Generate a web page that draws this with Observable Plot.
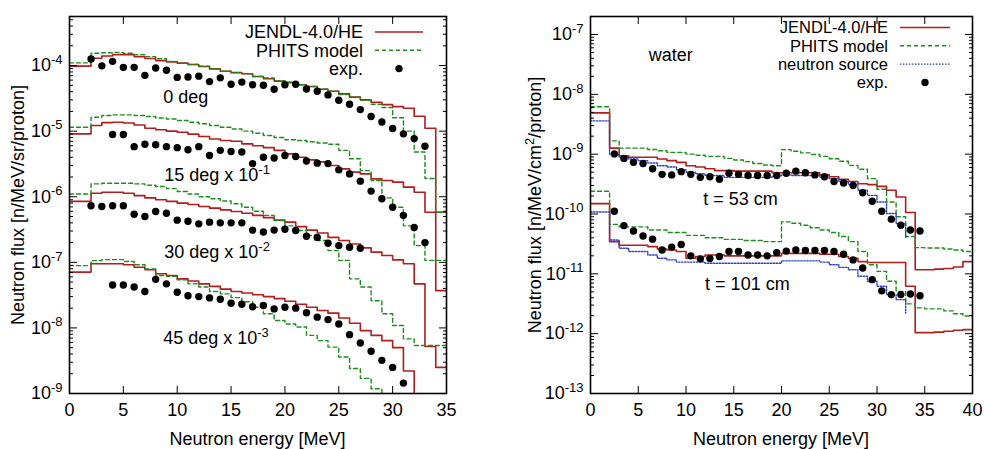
<!DOCTYPE html>
<html><head><meta charset="utf-8">
<script src="https://cdn.jsdelivr.net/npm/d3@7"></script>
<script src="https://cdn.jsdelivr.net/npm/@observablehq/plot@0.6"></script>
<style>
html,body{margin:0;padding:0;background:#fff;}
#wrap{display:flex;width:984px;height:449px;overflow:hidden;}
#wrap svg{display:block;}
</style></head><body><div id="wrap"></div>
<script>
// ---------- LEFT PANEL DATA (flux per sr) ----------
const edgesL = [0,2,3,4,5,6,7,8,9,10,11,12,13,14,15,16,17,18,19,20,21,22,23,24,25,26,27,28,29,30,31,32,33,34,35];
const jendl0 = [9.8e-5,1.29e-4,1.40e-4,1.47e-4,1.47e-4,1.37e-4,1.28e-4,1.19e-4,1.14e-4,1.09e-4,1.04e-4,9.7e-5,8.9e-5,8.2e-5,7.8e-5,7.5e-5,6.8e-5,6.3e-5,5.8e-5,5.5e-5,5.1e-5,4.8e-5,4.35e-5,4.06e-5,3.7e-5,3.3e-5,3.0e-5,2.76e-5,2.54e-5,2.37e-5,2.24e-5,1.69e-5,1.11e-5,5.8e-7];
const phits0 = [1.10e-4,1.54e-4,1.57e-4,1.59e-4,1.54e-4,1.47e-4,1.37e-4,1.27e-4,1.16e-4,1.09e-4,1.04e-4,9.8e-5,8.9e-5,8.2e-5,7.8e-5,7.5e-5,6.8e-5,6.5e-5,5.9e-5,5.6e-5,5.1e-5,4.8e-5,4.4e-5,4.06e-5,3.6e-5,3.3e-5,2.96e-5,2.57e-5,2.3e-5,1.6e-5,1.0e-5,4.8e-6,1.9e-6,5.8e-7];
const jendl15 = [9.1e-6,1.22e-5,1.35e-5,1.37e-5,1.33e-5,1.24e-5,1.11e-5,1.05e-5,1.0e-5,9.6e-6,9.0e-6,8.3e-6,7.6e-6,7.2e-6,7.0e-6,6.4e-6,6.0e-6,5.6e-6,5.1e-6,4.5e-6,4.0e-6,3.65e-6,3.4e-6,3.0e-6,2.66e-6,2.37e-6,2.23e-6,1.87e-6,1.77e-6,1.67e-6,1.40e-6,1.17e-6,5.8e-7,3.7e-8];
const phits15 = [1.15e-5,1.63e-5,1.73e-5,1.77e-5,1.77e-5,1.73e-5,1.67e-5,1.59e-5,1.53e-5,1.45e-5,1.37e-5,1.3e-5,1.22e-5,1.15e-5,1.08e-5,1.0e-5,9.3e-6,8.6e-6,8.0e-6,7.4e-6,7.2e-6,6.9e-6,6.6e-6,6.3e-6,5.1e-6,3.8e-6,2.5e-6,1.77e-6,9.6e-7,6.9e-7,3.6e-7,1.8e-7,1.07e-7,1.07e-7];
const jendl30 = [8.5e-7,1.13e-6,1.17e-6,1.17e-6,1.13e-6,1.04e-6,9.6e-7,9.0e-7,8.5e-7,8.0e-7,7.6e-7,7.1e-7,6.7e-7,6.3e-7,5.95e-7,5.6e-7,5.2e-7,4.8e-7,4.4e-7,4.1e-7,3.5e-7,3.1e-7,2.8e-7,2.4e-7,2.15e-7,1.9e-7,1.66e-7,1.43e-7,1.27e-7,1.09e-7,9.5e-8,4.7e-8,5.2e-9,2.5e-9];
const phits30 = [1.1e-6,1.57e-6,1.61e-6,1.61e-6,1.61e-6,1.57e-6,1.5e-6,1.43e-6,1.33e-6,1.2e-6,1.1e-6,1.0e-6,9.3e-7,8.6e-7,7.8e-7,6.9e-7,6.0e-7,5.2e-7,4.35e-7,3.6e-7,3.05e-7,2.57e-7,2.15e-7,1.51e-7,1.07e-7,5.6e-8,4.2e-8,2.6e-8,1.64e-8,1.09e-8,6.8e-9,5.4e-9,5.4e-9,5.4e-9];
const jendl45 = [7.1e-8,9.5e-8,9.5e-8,9.5e-8,9.2e-8,8.4e-8,7.7e-8,6.7e-8,6.3e-8,5.6e-8,5.2e-8,4.7e-8,4.3e-8,3.9e-8,3.6e-8,3.4e-8,3.2e-8,3.0e-8,2.8e-8,2.55e-8,2.3e-8,2.07e-8,1.84e-8,1.68e-8,1.42e-8,1.18e-8,9.1e-9,7.7e-9,6.4e-9,5.0e-9,2.2e-9,1e-11,1e-11,1e-11];
const phits45 = [8.9e-8,1.06e-7,1.1e-7,1.1e-7,1.03e-7,9.2e-8,7.9e-8,6.3e-8,6.1e-8,5.4e-8,4.7e-8,4.2e-8,3.6e-8,3.3e-8,2.9e-8,2.5e-8,2.07e-8,1.64e-8,1.3e-8,1.15e-8,1.03e-8,7.7e-9,6.4e-9,5.1e-9,3.6e-9,2.4e-9,1.7e-9,1.18e-9,1e-11,1e-11,1e-11,1e-11,1e-11,1e-11];

const exp0E = [2,3,4,5,6,7,8,9,10,11,12,13,14,15,16,17,18,19,20,21,22,23,24,25,26,27,28,29,30,31,32,33];
const exp0 = [1.26e-4,9.9e-5,1.16e-4,9.4e-5,9.4e-5,7.1e-5,9.2e-5,8.5e-5,6.6e-5,6.7e-5,6.9e-5,5.7e-5,6.5e-5,5.2e-5,5.6e-5,5.1e-5,5.0e-5,4.35e-5,5.1e-5,5.2e-5,4.4e-5,4.06e-5,3.57e-5,2.96e-5,2.57e-5,2.13e-5,1.67e-5,1.38e-5,1.10e-5,9.1e-6,7.7e-6,5.9e-6];
const exp15E = [4,5,6,7,8,9,10,11,12,13,14,15,16,17,18,19,20,21,22,23,24,25,26,27,28,29,30,31,32,33];
const exp15 = [8.9e-6,8.9e-6,5.8e-6,6.3e-6,6.2e-6,5.8e-6,5.6e-6,5.2e-6,5.8e-6,4.25e-6,5.1e-6,4.9e-6,4.8e-6,3.2e-6,4.0e-6,3.9e-6,4.25e-6,4.1e-6,3.5e-6,3.25e-6,3.2e-6,2.57e-6,2.23e-6,1.73e-6,1.22e-6,9.3e-7,6.9e-7,5.2e-7,3.4e-7,2.0e-7];
const exp30E = [2,3,4,5,6,7,8,9,10,11,12,13,14,15,16,17,18,19,20,21,22,23,24,25,26,27];
const exp30 = [7.3e-7,7.1e-7,7.3e-7,7.3e-7,5.4e-7,5.0e-7,5.95e-7,5.6e-7,4.4e-7,4.24e-7,3.86e-7,4.1e-7,4.0e-7,4.0e-7,4.0e-7,3.1e-7,2.9e-7,3.1e-7,3.2e-7,3.05e-7,2.5e-7,2.4e-7,1.96e-7,1.8e-7,1.7e-7,1.64e-7];
const exp45E = [4,5,6,7,8,9,10,11,12,13,14,15,16,17,18,19,20,21,22,23,24,25,26,27,28,29,30,31];
const exp45 = [4.5e-8,4.5e-8,4.2e-8,3.6e-8,5.5e-8,4.7e-8,3.5e-8,3.1e-8,3.0e-8,2.87e-8,2.74e-8,2.38e-8,2.3e-8,2.1e-8,2.2e-8,1.95e-8,2.07e-8,2.0e-8,1.7e-8,1.46e-8,1.34e-8,1.15e-8,7.9e-9,5.9e-9,4.4e-9,3.2e-9,2.5e-9,1.44e-9];

// ---------- RIGHT PANEL DATA (water) ----------
const edgesR = [0,2,3,4,5,6,7,8,9,10,11,12,13,14,15,16,17,18,19,20,21,22,23,24,25,26,27,28,29,30,31,32,33,34,35,36,37,38,39,40];
const jendl53 = [4.9e-9,1.26e-9,9.4e-10,8.9e-10,8.9e-10,8.9e-10,8.3e-10,7.8e-10,7.3e-10,6.4e-10,6.1e-10,5.7e-10,5.3e-10,5.3e-10,5.2e-10,5.2e-10,5.2e-10,5.2e-10,4.9e-10,4.9e-10,4.9e-10,4.9e-10,4.9e-10,4.5e-10,4.2e-10,3.8e-10,3.5e-10,3.2e-10,3.1e-10,2.9e-10,2.5e-10,1.92e-10,1.06e-10,1.17e-11,1.17e-11,1.2e-11,1.23e-11,1.3e-11,1.6e-11];
const phits53 = [6.2e-9,1.67e-9,1.26e-9,1.26e-9,1.26e-9,1.2e-9,1.14e-9,1.07e-9,1.07e-9,1.0e-9,9.6e-10,9.2e-10,9.2e-10,8.5e-10,8.0e-10,7.5e-10,7.0e-10,6.6e-10,6.4e-10,1.19e-9,1.12e-9,1.05e-9,9.9e-10,9.2e-10,8.4e-10,7.6e-10,6.5e-10,5.6e-10,3.9e-10,2.6e-10,1.59e-10,9.0e-11,4.2e-11,2.74e-11,2.7e-11,2.7e-11,2.6e-11,2.5e-11,2.36e-11];
const source53 = [3.6e-9,1.0e-9,8.9e-10,8.3e-10,7.8e-10,7.1e-10,6.4e-10,6.1e-10,5.5e-10,5.0e-10,4.7e-10,4.4e-10,4.4e-10,4.1e-10,4.1e-10,4.1e-10,4.1e-10,4.1e-10,4.3e-10,4.5e-10,4.4e-10,4.4e-10,4.4e-10,4.1e-10,3.9e-10,3.5e-10,3.1e-10,2.5e-10,2.05e-10,1.59e-10,1.02e-10,6.9e-11];
const jendl101 = [1.49e-10,3.45e-11,3.0e-11,3.0e-11,3.0e-11,2.85e-11,2.6e-11,2.5e-11,2.36e-11,1.82e-11,1.95e-11,2.07e-11,2.07e-11,2.0e-11,2.0e-11,2.0e-11,2.0e-11,2.0e-11,2.0e-11,2.2e-11,2.2e-11,2.2e-11,2.2e-11,2.13e-11,2.13e-11,1.95e-11,1.82e-11,1.6e-11,1.55e-11,1.55e-11,1.55e-11,1.55e-11,6.2e-12,1.04e-12,1.04e-12,1.06e-12,1.1e-12,1.14e-12,1.17e-12];
const phits101 = [2.4e-10,6.7e-11,6.1e-11,6.1e-11,6.1e-11,5.4e-11,5.4e-11,4.9e-11,4.9e-11,4.4e-11,4.4e-11,4.0e-11,4.0e-11,3.76e-11,3.76e-11,3.6e-11,3.6e-11,3.45e-11,3.45e-11,7.4e-11,7.0e-11,6.5e-11,5.9e-11,5.4e-11,4.9e-11,4.2e-11,3.45e-11,2.36e-11,1.42e-11,1.1e-11,7.5e-12,5.1e-12,3.15e-12,2.7e-12,2.6e-12,2.6e-12,2.4e-12,2.15e-12,1.97e-12];
const source101 = [1.08e-10,3.67e-11,2.67e-11,2.36e-11,2.36e-11,2.07e-11,1.82e-11,1.71e-11,1.57e-11,1.57e-11,1.57e-11,1.5e-11,1.5e-11,1.5e-11,1.5e-11,1.5e-11,1.5e-11,1.5e-11,1.5e-11,1.65e-11,1.65e-11,1.65e-11,1.65e-11,1.57e-11,1.42e-11,1.28e-11,1.17e-11,9.1e-12,7.5e-12,6.2e-12,4.5e-12,3.7e-12];
const sourceEnd = [3.9e-11, 2.2e-12];

const expRE = [2.5,3.5,4.5,5.5,6.5,7.5,8.5,9.5,10.5,11.5,12.5,13.5,14.5,15.5,16.5,17.5,18.5,19.5,20.5,21.5,22.5,23.5,24.5,25.5,26.5,27.5,28.5,29.5,30.5,31.5,32.5,33.5,34.5];
const exp53 = [1.01e-9,8.5e-10,7.3e-10,7.0e-10,5.7e-10,4.6e-10,4.5e-10,5.1e-10,4.6e-10,4.1e-10,4.2e-10,3.8e-10,4.8e-10,4.6e-10,4.4e-10,4.4e-10,4.4e-10,4.4e-10,4.8e-10,5.2e-10,4.9e-10,4.5e-10,4.2e-10,3.5e-10,3.3e-10,3.0e-10,2.27e-10,1.63e-10,1.11e-10,8.2e-11,6.5e-11,5.4e-11,5.2e-11];
const exp101 = [1.11e-10,6.4e-11,5.2e-11,4.3e-11,3.8e-11,2.5e-11,2.8e-11,3.1e-11,2.0e-11,1.78e-11,1.8e-11,1.95e-11,2.36e-11,2.36e-11,2.07e-11,2.07e-11,2.0e-11,2.26e-11,2.4e-11,2.5e-11,2.45e-11,2.45e-11,2.45e-11,2.36e-11,2.13e-11,1.71e-11,1.25e-11,8.0e-12,5.2e-12,4.5e-12,4.5e-12,4.6e-12,4.3e-12];

// ---------- ticks, labels, annotations ----------
const xTicksL = [0,5,10,15,20,25,30,35];
const xTicksR = [0,5,10,15,20,25,30,35,40];
const yMajorL = [1e-9,1e-8,1e-7,1e-6,1e-5,1e-4];
const yMajorR = [1e-13,1e-12,1e-11,1e-10,1e-9,1e-8,1e-7];
const annotL = ["0 deg","15 deg x 10^-1","30 deg x 10^-2","45 deg x 10^-3"];
const annotLE = [8.7,8.8,8.8,8.7];
const annotLF = [3.25e-5,2.1e-6,1.41e-7,6.9e-9];
const annotR = ["water","t = 53 cm","t = 101 cm"];
const annotRE = [6.1,11.8,12.0];
const annotRF = [4.5e-8,1.78e-10,6.7e-12];
const legendL = ["JENDL-4.0/HE","PHITS model","exp."];
const legendR = ["JENDL-4.0/HE","PHITS model","neutron source","exp."];

// ---------- rendering ----------
const FONT = '"Liberation Sans", Arial, Helvetica, sans-serif';
const RED = "#b01e1e", GREEN = "#1e8c1e", BLUE = "#3040c0";
const FS = 18;

function stepRows(edges, vals, drop) {
  const rows = vals.map((v, i) => ({e: edges[i], f: v}));
  rows.push({e: edges[vals.length], f: vals[vals.length - 1]});
  if (drop != null) rows.push({e: edges[vals.length], f: drop});
  return rows;
}
function minorTicks(majors, lo, hi) {
  const out = [];
  for (const m of majors.concat([majors[majors.length-1]*10])) for (let k = 2; k <= 9; k++) { const v = m*k/10; if (v > lo && v < hi) out.push(v); }
  return out;
}
const fmtPow = d => "10^" + Math.round(Math.log10(d));
const redLine = (rows) => Plot.line(rows, {x: "e", y: "f", curve: "step-after", stroke: RED, strokeWidth: 1.6, clip: true});
const greenLine = (rows) => Plot.line(rows, {x: "e", y: "f", curve: "step-after", stroke: GREEN, strokeWidth: 1.4, strokeDasharray: "4,3", clip: true});
const blueLine = (rows) => Plot.line(rows, {x: "e", y: "f", curve: "step-after", stroke: BLUE, strokeWidth: 1.4, strokeDasharray: "1.5,1.5", clip: true});
const dots = (E, V) => Plot.dot(V, {x: (d, i) => E[i], y: d => d, r: 3.7, fill: "black", stroke: "none"});

function axes(xT, yMaj, yMin) {
  return [
    Plot.axisX(xT, {anchor: "bottom", tickSize: -7, tickPadding: 17, label: null, fontSize: FS}),
    Plot.axisX(xT, {anchor: "top", tickSize: -7, tickFormat: () => "", label: null}),
    Plot.axisY(yMaj, {anchor: "left", tickSize: -8, tickPadding: 15, tickFormat: fmtPow, label: null, fontSize: FS}),
    Plot.axisY(yMaj, {anchor: "right", tickSize: -8, tickFormat: () => "", label: null}),
    Plot.axisY(yMin, {anchor: "left", tickSize: -4, tickFormat: () => "", label: null}),
    Plot.axisY(yMin, {anchor: "right", tickSize: -4, tickFormat: () => "", label: null}),
    Plot.frame({stroke: "black", strokeWidth: 1.6})
  ];
}

function supify(svg) {
  svg.querySelectorAll("text").forEach(t => {
    const s = t.textContent;
    if (!s.includes("^")) return;
    const parts = s.split(/\^(-?\d+)/);
    while (t.firstChild) t.removeChild(t.firstChild);
    const ns = "http://www.w3.org/2000/svg";
    let raised = false;
    parts.forEach((p, i) => {
      if (p === "") return;
      const ts = document.createElementNS(ns, "tspan");
      if (i % 2 === 1) { ts.setAttribute("dy", "-7.5"); ts.setAttribute("font-size", "13"); raised = true; }
      else if (raised) { ts.setAttribute("dy", "7.5"); raised = false; }
      ts.textContent = p;
      t.appendChild(ts);
    });
  });
}

function addTitles(svg, xc, xTitle, ycx, yc, yTitle) {
  const g = d3.select(svg).append("g").attr("font-family", FONT).attr("font-size", FS).attr("fill", "black");
  g.append("text").attr("x", xc).attr("y", 445).attr("text-anchor", "middle").text(xTitle);
  g.append("text").attr("transform", `translate(${ycx},${yc}) rotate(-90)`).attr("text-anchor", "middle").attr("dy", "0.35em").text(yTitle);
}
function addLegend(svg, labels, styles, textX, lineX1, lineX2, y0, dy, fs) {
  const g = d3.select(svg).append("g").attr("font-family", FONT).attr("font-size", fs);
  labels.forEach((lab, i) => {
    const y = y0 + i * dy;
    g.append("text").attr("x", textX).attr("y", y).attr("dy", "0.35em").attr("text-anchor", "end").attr("fill", "black").text(lab);
    const st = styles[i];
    if (st.dot) g.append("circle").attr("cx", (lineX1 + lineX2) / 2).attr("cy", y).attr("r", 3.7).attr("fill", "black");
    else g.append("line").attr("x1", lineX1).attr("x2", lineX2).attr("y1", y).attr("y2", y).attr("stroke", st.stroke).attr("stroke-width", st.w).attr("stroke-dasharray", st.dash || null);
  });
}

const common = {height: 449, marginTop: 16, marginBottom: 56, style: {fontFamily: FONT, fontSize: FS + "px", background: "white", color: "black"}};

const left = Plot.plot({
  ...common, width: 492, marginLeft: 69, marginRight: 46,
  x: {domain: [0, 35]},
  y: {type: "log", domain: [1e-9, 5.6e-4]},
  marks: [
    redLine(stepRows(edgesL, jendl0)), redLine(stepRows(edgesL, jendl15)), redLine(stepRows(edgesL, jendl30)), redLine(stepRows(edgesL, jendl45)),
    greenLine(stepRows(edgesL, phits0)), greenLine(stepRows(edgesL, phits15)), greenLine(stepRows(edgesL, phits30)), greenLine(stepRows(edgesL, phits45)),
    dots(exp0E, exp0), dots(exp15E, exp15), dots(exp30E, exp30), dots(exp45E, exp45),
    Plot.text(annotL, {x: (d, i) => annotLE[i], y: (d, i) => annotLF[i], text: d => d, textAnchor: "start", fontSize: FS, fill: "black"}),
    ...axes(xTicksL, yMajorL, minorTicks(yMajorL, 1e-9, 5.6e-4))
  ]
});

const right = Plot.plot({
  ...common, width: 492, marginLeft: 98, marginRight: 12,
  x: {domain: [0, 40]},
  y: {type: "log", domain: [1e-13, 2e-7]},
  marks: [
    redLine(stepRows(edgesR, jendl53)), redLine(stepRows(edgesR, jendl101)),
    greenLine(stepRows(edgesR, phits53)), greenLine(stepRows(edgesR, phits101)),
    blueLine(stepRows(edgesR, source53, sourceEnd[0])), blueLine(stepRows(edgesR, source101, sourceEnd[1])),
    dots(expRE, exp53), dots(expRE, exp101),
    Plot.text(annotR, {x: (d, i) => annotRE[i], y: (d, i) => annotRF[i], text: d => d, textAnchor: "start", fontSize: FS, fill: "black"}),
    ...axes(xTicksR, yMajorR, minorTicks(yMajorR, 1e-13, 2e-7))
  ]
});

addTitles(left, 257.5, "Neutron energy [MeV]", 18, 205, "Neutron flux [n/MeV/sr/proton]");
addTitles(right, 289, "Neutron energy [MeV]", 43, 205, "Neutron flux [n/MeV/cm^2/proton]");
addLegend(left, legendL, [{stroke: RED, w: 1.6}, {stroke: GREEN, w: 1.4, dash: "4,3"}, {dot: true}], 363, 375, 423, 32, 18.3, 18);
addLegend(right, legendR, [{stroke: RED, w: 1.6}, {stroke: GREEN, w: 1.4, dash: "4,3"}, {stroke: BLUE, w: 1.4, dash: "1.5,1.5"}, {dot: true}], 396, 408, 458, 27.5, 18.3, 16.5);
supify(left); supify(right);

document.getElementById("wrap").append(left, right);
</script>
</body></html>
